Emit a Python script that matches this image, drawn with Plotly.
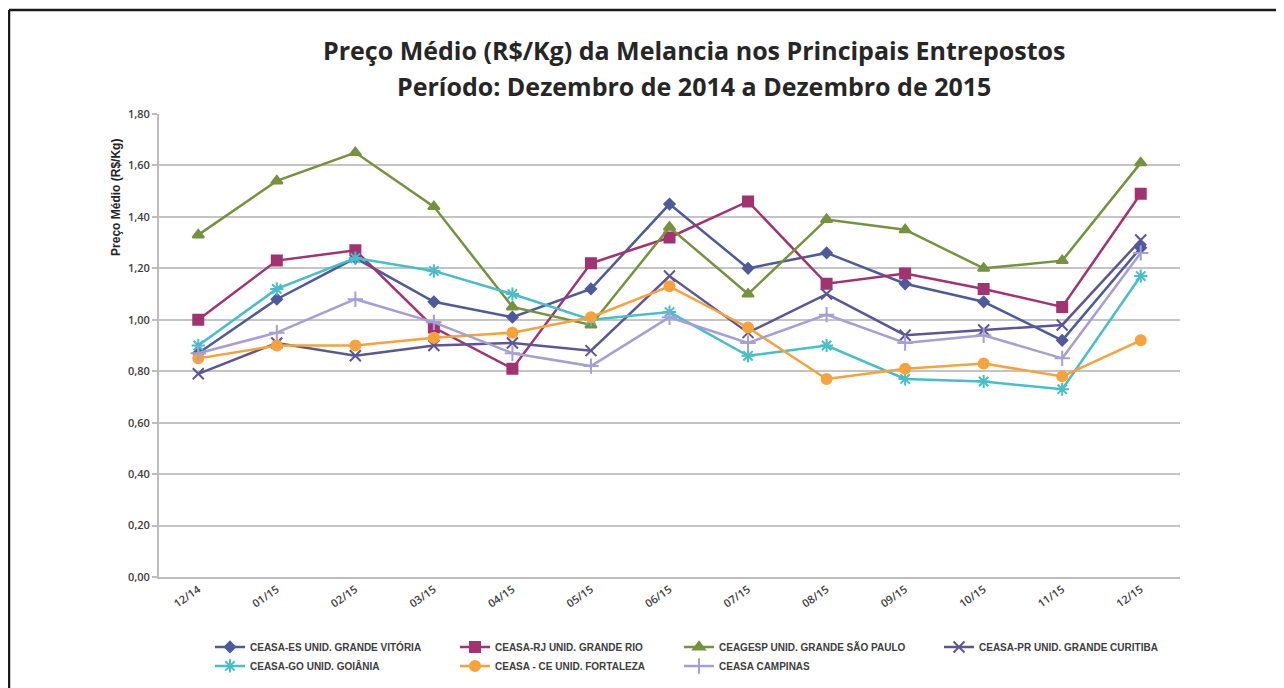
import plotly.graph_objects as go

months = ["12/14", "01/15", "02/15", "03/15", "04/15", "05/15", "06/15",
          "07/15", "08/15", "09/15", "10/15", "11/15", "12/15"]

ceasa_es = [0.87, 1.08, 1.24, 1.07, 1.01, 1.12, 1.45, 1.20, 1.26, 1.14, 1.07, 0.92, 1.28]
ceasa_rj = [1.00, 1.23, 1.27, 0.97, 0.81, 1.22, 1.32, 1.46, 1.14, 1.18, 1.12, 1.05, 1.49]
ceagesp = [1.33, 1.54, 1.65, 1.44, 1.05, 0.98, 1.36, 1.10, 1.39, 1.35, 1.20, 1.23, 1.61]
ceasa_pr = [0.79, 0.91, 0.86, 0.90, 0.91, 0.88, 1.17, 0.95, 1.10, 0.94, 0.96, 0.98, 1.31]
ceasa_go = [0.90, 1.12, 1.24, 1.19, 1.10, 1.00, 1.03, 0.86, 0.90, 0.77, 0.76, 0.73, 1.17]
ceasa_ce = [0.85, 0.90, 0.90, 0.93, 0.95, 1.01, 1.13, 0.97, 0.77, 0.81, 0.83, 0.78, 0.92]
ceasa_campinas = [0.87, 0.95, 1.08, 0.99, 0.87, 0.82, 1.01, 0.91, 1.02, 0.91, 0.94, 0.85, 1.26]

names = ["CEASA-ES UNID. GRANDE VITÓRIA", "CEASA-RJ UNID. GRANDE RIO",
         "CEAGESP UNID. GRANDE SÃO PAULO", "CEASA-PR UNID. GRANDE CURITIBA",
         "CEASA-GO UNID. GOIÂNIA", "CEASA - CE UNID. FORTALEZA", "CEASA CAMPINAS"]
series = [ceasa_es, ceasa_rj, ceagesp, ceasa_pr, ceasa_go, ceasa_ce, ceasa_campinas]

colors = ["#4E5A9C", "#A23370", "#76923C", "#5C5699", "#45BFC8", "#F9A23A", "#A59ED8"]
symbols = ["diamond", "square", "triangle-up", "x-thin-open", "asterisk-open",
           "circle", "cross-thin-open"]
msizes = [8, 10, 10, 11, 11, 10, 11]
legend_ids = ["legend", "legend2", "legend3", "legend4", "legend", "legend2", "legend3"]

# page is drawn with an 8px body margin; target positions are in screen px
OFF = 8
W, H = 1284, 688
L, R, T, B = 159 - OFF, 1180 - OFF, 114 - OFF, 577.5 - OFF


def px2x(px):
    return (px - OFF - L) / (R - L)


def px2y(py):
    return (B - (py - OFF)) / (B - T)


fig = go.Figure()
for name, vals, col, sym, ms, lg in zip(names, series, colors, symbols, msizes, legend_ids):
    fig.add_trace(go.Scatter(
        x=months, y=vals, name=name, mode="lines+markers",
        line=dict(color=col, width=2.5),
        marker=dict(symbol=sym, size=ms, color=col,
                    line=dict(color=col, width=2)),
        legend=lg,
    ))

legend_font = dict(family="Liberation Sans", size=10, color="#404040", weight="bold")


def make_legend(xpx):
    return dict(orientation="v", x=px2x(xpx), y=px2y(633), xanchor="left",
                yanchor="top", font=legend_font, tracegroupgap=0,
                itemwidth=30, bgcolor="rgba(0,0,0,0)", borderwidth=0)


tick_font = dict(family="Open Sans", size=11, color="#404040", weight=600)

fig.update_layout(
    width=W, height=H,
    margin=dict(l=L, r=W - R, t=T, b=H - B, pad=0),
    paper_bgcolor="white", plot_bgcolor="white",
    separators=",.",
    showlegend=True,
    legend=make_legend(210),
    legend2=make_legend(455),
    legend3=make_legend(679),
    legend4=make_legend(939),
    xaxis=dict(type="category", range=[-0.5, 12.5], showgrid=False,
               showline=True, linecolor="#BDBDBD", linewidth=2,
               ticks="", tickangle=-35, tickfont=tick_font),
    yaxis=dict(range=[0, 1.8], dtick=0.2, tickformat=".2f",
               showgrid=True, gridcolor="#C4C4C4", gridwidth=2,
               showline=True, linecolor="#BDBDBD", linewidth=2,
               ticks="outside", ticklen=5, tickcolor="#BDBDBD", tickwidth=2,
               zeroline=False, tickfont=tick_font),
)

title_font = dict(family="Open Sans", size=25, color="#262626")
fig.add_annotation(
    x=px2x(694), y=px2y(50), xref="paper", yref="paper", showarrow=False,
    xanchor="center", yanchor="middle",
    text="<b>Preço Médio (R$/Kg) da Melancia nos Principais Entrepostos</b>",
    font=title_font)
fig.add_annotation(
    x=px2x(694), y=px2y(86), xref="paper", yref="paper", showarrow=False,
    xanchor="center", yanchor="middle",
    text="<b>Período: Dezembro de 2014 a Dezembro de 2015</b>",
    font=title_font)
fig.add_annotation(
    x=px2x(116), y=px2y(198), xref="paper", yref="paper", showarrow=False,
    xanchor="center", yanchor="middle",
    text="<b>Preço Médio (R$/Kg)</b>", textangle=-90,
    font=dict(family="Liberation Sans", size=12, color="#262626"))

# frame lines (top and left)
fig.add_shape(type="line", xref="paper", yref="paper",
              x0=px2x(9), y0=px2y(10), x1=px2x(1310), y1=px2y(10),
              line=dict(color="#1A1A1A", width=2.5))
fig.add_shape(type="line", xref="paper", yref="paper",
              x0=px2x(9), y0=px2y(10), x1=px2x(9), y1=px2y(710),
              line=dict(color="#1A1A1A", width=2.5))

fig.write_html("out.html")
